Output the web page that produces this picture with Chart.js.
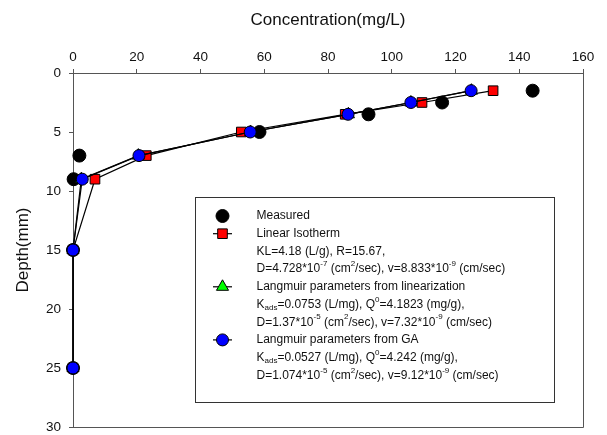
<!DOCTYPE html>
<html>
<head>
<meta charset="utf-8">
<script src="https://cdn.jsdelivr.net/npm/chart.js@4/dist/chart.umd.min.js"></script>
<style>
  html, body { margin: 0; padding: 0; background: #fff; }
  #wrap { width: 607px; height: 435px; }
</style>
</head>
<body>
<div id="wrap"><canvas id="chart" width="607" height="435"></canvas></div>
<script>
// depth (mm) for every profile point
const depths = [1.5, 2.5, 3.5, 5, 7, 9, 15, 25];
// concentration (mg/L) per series
const measured = [144.2, 115.8, 92.7, 58.5, 2.0, 0.2, 0, 0];
const linearIso = [131.8, 109.5, 85.4, 52.8, 23.0, 6.9, 0, 0];
const langmuirLin = [125.0, 106.0, 86.4, 55.7, 20.5, 2.6, 0, 0];
const langmuirGA = [124.9, 106.0, 86.3, 55.6, 20.7, 2.9, 0, 0];

const xTickValues = [0, 20, 40, 60, 80, 100, 120, 140, 160];
const yTickValues = [0, 5, 10, 15, 20, 25, 30];

const seriesNames = ['Measured', 'Linear Isotherm', 'Langmuir parameters from linearization', 'Langmuir parameters from GA'];

// legend text, one entry per line; parts are [text, 'sup' | 'sub'] pieces
const legendLines = [
  { marker: 0, parts: [['Measured']] },
  { marker: 1, parts: [['Linear Isotherm']] },
  { parts: [['KL=4.18 (L/g), R=15.67,']] },
  { parts: [['D=4.728*10'], ['-7', 'sup'], [' (cm'], ['2', 'sup'], ['/sec), v=8.833*10'], ['-9', 'sup'], [' (cm/sec)']] },
  { marker: 2, parts: [['Langmuir parameters from linearization']] },
  { parts: [['K'], ['ads', 'sub'], ['=0.0753 (L/mg), Q'], ['0', 'sup'], ['=4.1823 (mg/g),']] },
  { parts: [['D=1.37*10'], ['-5', 'sup'], [' (cm'], ['2', 'sup'], ['/sec), v=7.32*10'], ['-9', 'sup'], [' (cm/sec)']] },
  { marker: 3, parts: [['Langmuir parameters from GA']] },
  { parts: [['K'], ['ads', 'sub'], ['=0.0527 (L/mg), Q'], ['0', 'sup'], ['=4.242 (mg/g),']] },
  { parts: [['D=1.074*10'], ['-5', 'sup'], [' (cm'], ['2', 'sup'], ['/sec), v=9.12*10'], ['-9', 'sup'], [' (cm/sec)']] }
];

const FONT = "'Liberation Sans', Arial, sans-serif";
const AXIS_COLOR = '#555';

const toPoints = (vals) => vals.map((v, i) => ({ x: v, y: depths[i] }));

const markerStyles = [
  { pointStyle: 'circle', radius: 6.5, bg: '#000000', line: false },
  { pointStyle: 'rect', radius: 6.8, bg: '#ff0000', line: true },
  { pointStyle: 'triangle', radius: 7, bg: '#00ff00', line: true },
  { pointStyle: 'circle', radius: 6, bg: '#0000ff', line: true }
];

const seriesValues = [measured, linearIso, langmuirLin, langmuirGA];
const drawOrder = [4, 3, 2, 1];

const datasets = seriesValues.map((vals, i) => ({
  label: seriesNames[i],
  data: toPoints(vals),
  showLine: markerStyles[i].line,
  borderColor: '#000',
  borderWidth: 1.2,
  pointStyle: markerStyles[i].pointStyle,
  pointRadius: markerStyles[i].radius,
  pointBackgroundColor: markerStyles[i].bg,
  pointBorderColor: '#000',
  pointBorderWidth: 1,
  order: drawOrder[i],
  clip: false
}));

function drawRich(ctx, parts, x, y) {
  let cx = x;
  parts.forEach(([txt, mode]) => {
    if (mode === 'sup') {
      ctx.font = `8px ${FONT}`;
      ctx.fillText(txt, cx, y - 5);
    } else if (mode === 'sub') {
      ctx.font = `8px ${FONT}`;
      ctx.fillText(txt, cx, y + 3);
    } else {
      ctx.font = `12px ${FONT}`;
      ctx.fillText(txt, cx, y);
    }
    cx += ctx.measureText(txt).width;
  });
}

function drawMarker(ctx, style, x, y) {
  ctx.save();
  ctx.fillStyle = style.bg;
  ctx.strokeStyle = '#000';
  ctx.lineWidth = 1;
  Chart.helpers.drawPoint(ctx, { pointStyle: style.pointStyle, radius: style.radius, rotation: 0, borderWidth: 1 }, x, y);
  ctx.restore();
}

const framePlugin = {
  id: 'framePlugin',
  beforeDatasetsDraw(chart) {
    const { ctx, chartArea: a } = chart;
    ctx.save();
    ctx.strokeStyle = AXIS_COLOR;
    ctx.lineWidth = 1;
    ctx.beginPath();
    ctx.moveTo(Math.round(a.right) + 0.5, Math.round(a.top) + 0.5);
    ctx.lineTo(Math.round(a.right) + 0.5, Math.round(a.bottom) + 0.5);
    ctx.lineTo(Math.round(a.left) + 0.5, Math.round(a.bottom) + 0.5);
    ctx.stroke();
    ctx.restore();
  },
  afterDraw(chart) {
    const ctx = chart.ctx;
    const box = { left: 195.5, top: 197.5, right: 554.5, bottom: 402.5 };
    ctx.save();
    ctx.fillStyle = '#fff';
    ctx.fillRect(box.left, box.top, box.right - box.left, box.bottom - box.top);
    ctx.strokeStyle = '#333';
    ctx.lineWidth = 1;
    ctx.strokeRect(box.left, box.top, box.right - box.left, box.bottom - box.top);

    const textX = 256.5;
    const symX = 222.5;
    const y0 = 216;
    const step = 17.7;
    ctx.textBaseline = 'middle';
    legendLines.forEach((line, i) => {
      const y = y0 + i * step;
      if (line.marker !== undefined) {
        const st = markerStyles[line.marker];
        if (st.line) {
          ctx.strokeStyle = '#000';
          ctx.lineWidth = 1.2;
          ctx.beginPath();
          ctx.moveTo(213, y);
          ctx.lineTo(232, y);
          ctx.stroke();
        }
        drawMarker(ctx, st, symX, y);
      }
      ctx.fillStyle = '#111';
      drawRich(ctx, line.parts, textX, y);
    });
    ctx.restore();
  }
};

new Chart(document.getElementById('chart'), {
  type: 'scatter',
  data: { datasets },
  options: {
    responsive: false,
    animation: false,
    devicePixelRatio: 1,
    layout: { padding: { top: 0, left: 0, right: 24, bottom: 2 } },
    plugins: { legend: { display: false }, tooltip: { enabled: false } },
    scales: {
      x: {
        type: 'linear',
        position: 'top',
        min: 0,
        max: 160,
        afterBuildTicks: (scale) => { scale.ticks = xTickValues.map(v => ({ value: v })); },
        afterFit: (scale) => { scale.height = 73; scale.paddingLeft = 0; scale.paddingRight = 0; },
        ticks: { color: '#111', font: { family: FONT, size: 13.5 }, padding: 4, maxRotation: 0 },
        grid: { display: true, drawOnChartArea: false, drawTicks: true, tickLength: 4, color: AXIS_COLOR },
        border: { display: true, color: AXIS_COLOR, width: 1 },
        title: { display: true, text: 'Concentration(mg/L)', color: '#111', font: { family: FONT, size: 17 }, padding: { top: 10, bottom: 0 } }
      },
      y: {
        type: 'linear',
        reverse: true,
        min: 0,
        max: 30,
        afterBuildTicks: (scale) => { scale.ticks = yTickValues.map(v => ({ value: v })); },
        afterFit: (scale) => { scale.width = 73; scale.paddingTop = 0; scale.paddingBottom = 0; },
        ticks: { color: '#111', font: { family: FONT, size: 13.5 }, padding: 8 },
        grid: { display: true, drawOnChartArea: false, drawTicks: true, tickLength: 4, color: AXIS_COLOR },
        border: { display: true, color: AXIS_COLOR, width: 1 },
        title: { display: true, text: 'Depth(mm)', color: '#111', font: { family: FONT, size: 17 }, padding: { top: 13, bottom: 0 } }
      }
    }
  },
  plugins: [framePlugin]
});
</script>
</body>
</html>
